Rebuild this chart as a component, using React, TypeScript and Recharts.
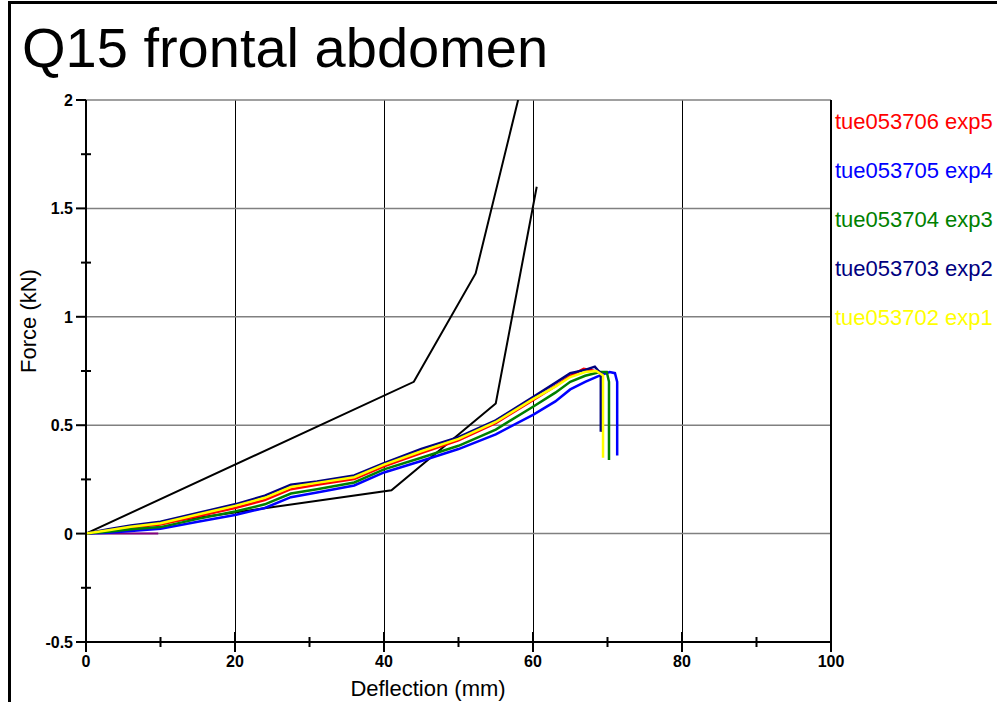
import React from 'react';
import { LineChart, Line, XAxis, YAxis, ReferenceLine, Legend } from 'recharts';

// axis ticks (major ones get labels and grid lines)
const xTicks = [0, 10, 20, 30, 40, 50, 60, 70, 80, 90, 100];
const yTicks = [-0.5, -0.25, 0, 0.25, 0.5, 0.75, 1, 1.25, 1.5, 1.75, 2];
const xGrid = [20, 40, 60, 80];
const yGrid = [0, 0.5, 1, 1.5, 2];

// corridor limits [deflection mm, force kN]
const upperCorridor: [number, number][] = [[0, 0], [44, 0.7], [52.3, 1.2], [58, 2]];
const lowerCorridor: [number, number][] = [[0, 0], [41, 0.2], [55, 0.6], [60.5, 1.6]];
const zeroTrace: [number, number][] = [[0, 0], [9.7, 0]];

// test traces
const exp5: [number, number][] = [
  [0, 0], [3, 0.012], [6, 0.028], [10, 0.042], [15, 0.08], [20, 0.118], [24, 0.155], [27.5, 0.205],
  [31, 0.225], [36, 0.252], [40, 0.31], [45, 0.372], [50, 0.43], [55, 0.51], [60, 0.615],
  [63, 0.68], [65, 0.728], [66.8, 0.76], [68, 0.752], [69.3, 0.74], [69.3, 0.47],
];
const exp4: [number, number][] = [
  [0, 0], [3, 0.004], [6, 0.012], [10, 0.022], [15, 0.055], [20, 0.086], [24, 0.118], [27.5, 0.168],
  [31, 0.19], [36, 0.222], [40, 0.282], [45, 0.335], [50, 0.39], [55, 0.458], [60, 0.548],
  [63, 0.61], [65, 0.665], [67, 0.7], [69, 0.73], [70.3, 0.745], [71, 0.74], [71.3, 0.7], [71.3, 0.36],
];
const exp3: [number, number][] = [
  [0, 0], [3, 0.008], [6, 0.02], [10, 0.03], [15, 0.068], [20, 0.102], [24, 0.135], [27.5, 0.185],
  [31, 0.205], [36, 0.236], [40, 0.296], [45, 0.35], [50, 0.405], [55, 0.48], [60, 0.585],
  [63, 0.65], [65, 0.7], [67, 0.728], [69, 0.745], [69.9, 0.745], [70.2, 0.7], [70.2, 0.34],
];
const exp2: [number, number][] = [
  [0, 0], [3, 0.02], [6, 0.038], [10, 0.055], [15, 0.095], [20, 0.135], [24, 0.175], [27.5, 0.225],
  [31, 0.24], [36, 0.268], [40, 0.325], [45, 0.39], [50, 0.445], [55, 0.522], [60, 0.63],
  [63, 0.695], [65, 0.74], [67, 0.755], [68.3, 0.77], [68.8, 0.75], [69.1, 0.74], [69.1, 0.47],
];
const exp1: [number, number][] = [
  [0, 0], [3, 0.015], [6, 0.032], [10, 0.048], [15, 0.088], [20, 0.128], [24, 0.165], [27.5, 0.215],
  [31, 0.234], [36, 0.26], [40, 0.318], [45, 0.38], [50, 0.437], [55, 0.515], [60, 0.62],
  [63, 0.678], [65, 0.722], [67, 0.745], [68.5, 0.75], [69.4, 0.73], [69.4, 0.35],
];

const series = [
  { name: 'tue053706 exp5', color: '#ff0000', points: exp5 },
  { name: 'tue053705 exp4', color: '#0000ff', points: exp4 },
  { name: 'tue053704 exp3', color: '#008000', points: exp3 },
  { name: 'tue053703 exp2', color: '#000080', points: exp2 },
  { name: 'tue053702 exp1', color: '#ffff00', points: exp1 },
];
const legendOrder = series.map((s) => s.name);

const toRows = (pts: [number, number][]) => pts.map(([x, y]) => ({ x, y }));

const isMajor = (v: number, step: number) => Math.abs(v / step - Math.round(v / step)) < 1e-6;

const sans = '"Liberation Sans", Arial, sans-serif';
const tickFont = { fontFamily: sans, fontSize: 16, fontWeight: 'bold' as const };

const XTick = (props: any) => {
  const { x, y, payload } = props;
  const major = isMajor(payload.value, 20);
  return (
    <g>
      <line x1={x} x2={x} y1={major ? y - 10 : y - 5} y2={major ? y + 10 : y + 5} stroke="#000" strokeWidth={2} />
      {major && (
        <text x={x} y={y + 25} textAnchor="middle" fill="#000" {...tickFont}>
          {payload.value}
        </text>
      )}
    </g>
  );
};

const YTick = (props: any) => {
  const { x, y, payload } = props;
  const major = isMajor(payload.value, 0.5);
  return (
    <g>
      <line x1={major ? x - 10 : x - 5} x2={major ? x : x + 5} y1={y} y2={y} stroke="#000" strokeWidth={2} />
      {major && (
        <text x={x - 13} y={y + 6} textAnchor="end" fill="#000" {...tickFont}>
          {payload.value}
        </text>
      )}
    </g>
  );
};

const renderLegend = (props: any) => {
  const items = (props.payload || [])
    .filter((p: any) => legendOrder.includes(p.value))
    .sort((a: any, b: any) => legendOrder.indexOf(a.value) - legendOrder.indexOf(b.value));
  return (
    <div style={{ fontFamily: sans, fontSize: 22 }}>
      {items.map((p: any) => (
        <div key={p.value} style={{ color: p.color, height: 49, lineHeight: '28px', whiteSpace: 'nowrap' }}>
          {p.value}
        </div>
      ))}
    </div>
  );
};

const App = () => {
  return (
    <div style={{ position: 'fixed', left: 0, top: 0, width: 997, height: 702, background: '#fff', overflow: 'hidden' }}>
      <div
        style={{
          position: 'absolute', left: 8, top: 1, width: 1000, height: 720,
          borderLeft: '3px solid #000', borderTop: '3px solid #000',
        }}
      />
      <LineChart width={997} height={702} margin={{ top: 100, right: 166, bottom: 20, left: 26 }}>
        {xGrid.map((v) => (
          <ReferenceLine key={`gx${v}`} x={v} stroke="#000" strokeWidth={1} shapeRendering="crispEdges" />
        ))}
        {yGrid.map((v) => (
          <ReferenceLine key={`gy${v}`} y={v} stroke="#808080" strokeWidth={1.5} />
        ))}
        <ReferenceLine x={100} stroke="#000" strokeWidth={2} />
        <XAxis
          dataKey="x"
          type="number"
          domain={[0, 100]}
          ticks={xTicks}
          interval={0}
          height={40}
          tickSize={0}
          tickMargin={0}
          tickLine={false}
          tick={<XTick />}
          axisLine={{ stroke: '#000', strokeWidth: 2 }}
          allowDataOverflow
        />
        <YAxis
          type="number"
          domain={[-0.5, 2]}
          ticks={yTicks}
          interval={0}
          width={60}
          tickSize={0}
          tickMargin={0}
          tickLine={false}
          tick={<YTick />}
          axisLine={{ stroke: '#000', strokeWidth: 2 }}
          allowDataOverflow
        />
        <Legend
          layout="horizontal"
          align="center"
          verticalAlign="middle"
          content={renderLegend}
          wrapperStyle={{ position: 'absolute', left: 835, top: 108, width: 162, height: 250 }}
        />
        <Line data={toRows(zeroTrace)} dataKey="y" stroke="#800080" strokeWidth={2} dot={false} legendType="none" isAnimationActive={false} />
        <Line data={toRows(upperCorridor)} dataKey="y" stroke="#000" strokeWidth={2} dot={false} legendType="none" isAnimationActive={false} />
        <Line data={toRows(lowerCorridor)} dataKey="y" stroke="#000" strokeWidth={2} dot={false} legendType="none" isAnimationActive={false} />
        {series.map((s) => (
          <Line
            key={s.name}
            name={s.name}
            data={toRows(s.points)}
            dataKey="y"
            type="linear"
            stroke={s.color}
            strokeWidth={2.5}
            dot={false}
            isAnimationActive={false}
          />
        ))}
      </LineChart>
      <svg width={997} height={702} style={{ position: 'absolute', left: 0, top: 0, pointerEvents: 'none' }}>
        <text x={22} y={67} fontFamily={sans} fontSize={56} fill="#000">
          Q15 frontal abdomen
        </text>
        <text transform="translate(36,321) rotate(-90)" textAnchor="middle" fontFamily={sans} fontSize={22} fill="#000">
          Force (kN)
        </text>
        <text x={428} y={696} textAnchor="middle" fontFamily={sans} fontSize={22} fill="#000">
          Deflection (mm)
        </text>
      </svg>
    </div>
  );
};

export default App;
